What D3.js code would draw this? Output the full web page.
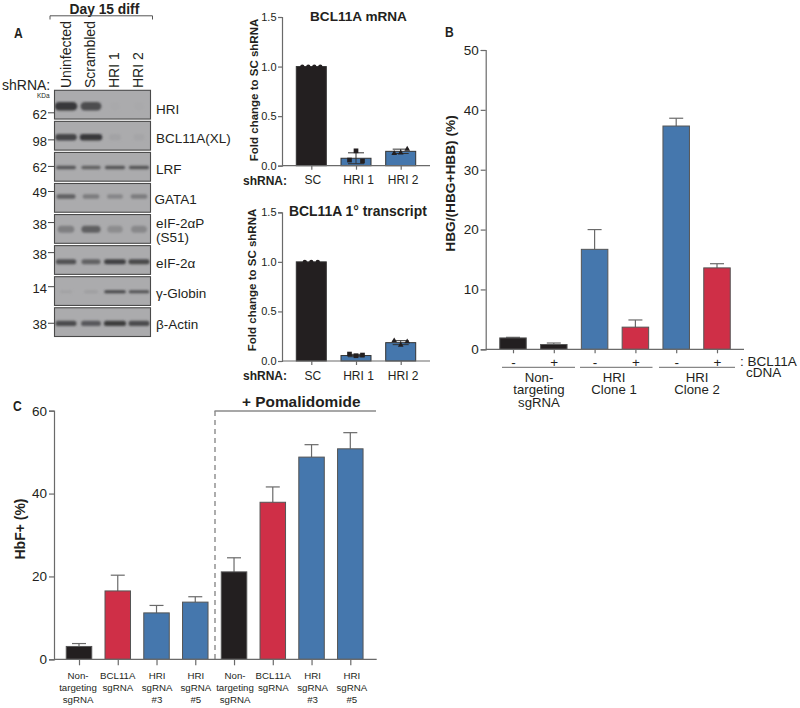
<!DOCTYPE html>
<html>
<head>
<meta charset="utf-8">
<script src="https://cdn.jsdelivr.net/npm/d3@7"></script>
<style>
  html, body { margin: 0; padding: 0; background: #fff; }
  svg { display: block; }
  text { font-family: "Liberation Sans", Arial, sans-serif; fill: #231f20; }
  .b { font-weight: bold; }
</style>
</head>
<body>
<div id="chart"></div>
<script>
// --- blot data
const laneNames = ["Uninfected", "Scrambled", "HRI 1", "HRI 2"];
const blotNames = ["HRI", "BCL11A(XL)", "LRF", "GATA1", "eIF-2αP", "eIF-2α", "γ-Globin", "β-Actin"];
const blotKDa = ["62", "98", "62", "49", "38", "38", "14", "38"];
const hriBand = [0.95, 0.78, 0, 0];
const bcl11aBand = [0.85, 0.95, 0.05, 0.03];
const lrfBand = [0.7, 0.62, 0.72, 0.72];
const gata1Band = [0.62, 0.38, 0.3, 0.38];
const eifPBand = [0.36, 0.62, 0.24, 0.28];
const eifBand = [0.75, 0.6, 0.88, 0.82];
const globinBand = [0.06, 0.09, 0.85, 0.75];
const actinBand = [0.8, 0.68, 0.92, 0.8];
const blotBands = [hriBand, bcl11aBand, lrfBand, gata1Band, eifPBand, eifBand, globinBand, actinBand];

// --- small bar charts, panel A
const shrnaGroups = ["SC", "HRI 1", "HRI 2"];
const mrnaMeans = [1.0, 0.075, 0.145];
const mrnaSD = [0, 0.055, 0.022];
const mrnaPoints = [[1, 1, 1, 1], [0.057, 0.15, 0.047], [0.125, 0.13, 0.167]];
const transcriptMeans = [1.0, 0.055, 0.185];
const transcriptSD = [0, 0.012, 0.02];
const transcriptPoints = [[1, 1, 1], [0.07, 0.053, 0.06], [0.205, 0.16, 0.195]];

// --- panel B
const bTicks = [0, 10, 20, 30, 40, 50];
const bSigns = ["-", "+", "-", "+", "-", "+"];
const bMeans = [1.9, 0.8, 16.7, 3.7, 37.3, 13.6];
const bTops = [2.0, 1.05, 20.0, 4.9, 38.6, 14.3];
const bKinds = ["ctrl", "ctrl", "hri", "rescue", "hri", "rescue"];
const bGroups = [["Non-", "targeting", "sgRNA"], ["HRI", "Clone 1"], ["HRI", "Clone 2"]];

// --- panel C
const cTicks = [0, 20, 40, 60];
const cLabels = [
  ["Non-", "targeting", "sgRNA"], ["BCL11A", "sgRNA"], ["HRI", "sgRNA", "#3"], ["HRI", "sgRNA", "#5"],
  ["Non-", "targeting", "sgRNA"], ["BCL11A", "sgRNA"], ["HRI", "sgRNA", "#3"], ["HRI", "sgRNA", "#5"]
];
const cMeans = [3.1, 16.5, 11.2, 13.8, 21.1, 37.9, 48.8, 50.8];
const cTops = [3.8, 20.3, 13.0, 15.1, 24.5, 41.6, 51.8, 54.7];
const cKinds = ["ctrl", "rescue", "hri", "hri", "ctrl", "rescue", "hri", "hri"];

const fills = { ctrl: "#231f20", hri: "#4577ad", rescue: "#cf2f47" };
const axisCol = "#6a6a6a";

const svg = d3.select("#chart").append("svg").attr("width", 800).attr("height", 708);

const defs = svg.append("defs");
defs.append("filter").attr("id", "soft")
  .attr("x", "-30%").attr("y", "-100%").attr("width", "160%").attr("height", "300%")
  .append("feGaussianBlur").attr("stdDeviation", "1.2 0.9");

function label(parent, x, y, str, size, opts = {}) {
  return parent.append("text")
    .attr("x", x).attr("y", y)
    .attr("font-size", size)
    .attr("text-anchor", opts.anchor || "start")
    .attr("class", opts.bold ? "b" : null)
    .text(str);
}

// several lines in one text element, set tight like the figure
function stacked(parent, x, y, lines, size, leading) {
  const t = parent.append("text").attr("font-size", size).attr("text-anchor", "middle");
  lines.forEach((s, k) => {
    t.append("tspan").attr("x", x).attr("y", y + k * leading).text(s);
  });
  return t;
}

function panelLetter(str, x, y) {
  svg.append("text").attr("class", "b")
    .attr("transform", `translate(${x},${y}) scale(0.78,1)`)
    .attr("font-size", 15.5).text(str);
}

function styleAxis(g) {
  g.selectAll("path, line").attr("stroke", axisCol).attr("stroke-width", 1.2);
}

// --- western blots
const blotX = d3.scaleBand().domain(laneNames).range([55, 151]);
const blotY = d3.scaleBand().domain(blotNames).range([90.3, 336.5]).paddingInner(0.075);
const bandTone = d3.scaleLinear().domain([0, 1]).range(["#a9a9ab", "#333335"]);
const bandW = d3.scaleLinear().domain([0, 0.1, 1]).range([10, 14, 23]);
// layout of each strip, px from its top
const bandOffset = [16, 15.8, 15, 13, 14.7, 16, 15, 15.7];
const bandThick = [8.5, 6.5, 3.6, 4.4, 7, 5, 3, 5.2];
const markerOffset = [22.5, 18.5, 14, 8, 8, 7, 10, 15.5];
const labelDy = [23.5, 22, 22, 21, 0, 22, 21, 21];

const blots = svg.append("g");
blotNames.forEach((name, i) => {
  const y0 = blotY(name), h = blotY.bandwidth();
  const strip = blots.append("g");
  strip.append("rect").attr("x", 54.5).attr("y", y0).attr("width", 96).attr("height", h)
    .attr("fill", "#ababad").attr("stroke", "#4a4a4a").attr("stroke-width", 1.1);
  const clipId = "strip" + i;
  defs.append("clipPath").attr("id", clipId).append("rect")
    .attr("x", 55).attr("y", y0 + 0.5).attr("width", 95).attr("height", h - 1);
  strip.append("g").attr("clip-path", `url(#${clipId})`)
    .selectAll("rect").data(blotBands[i]).join("rect")
    .attr("x", (d, j) => blotX(laneNames[j]) + blotX.bandwidth() / 2 - bandW(d) / 2 - (j === 0 ? 1 : 0))
    .attr("y", y0 + bandOffset[i] - bandThick[i] / 2)
    .attr("width", d => bandW(d))
    .attr("height", bandThick[i])
    .attr("rx", bandThick[i] / 2)
    .attr("fill", d => bandTone(d))
    .attr("filter", "url(#soft)");
  const my = y0 + markerOffset[i];
  blots.append("line").attr("x1", 48).attr("x2", 54).attr("y1", my).attr("y2", my)
    .attr("stroke", "#444").attr("stroke-width", 1);
  label(blots, 47, my + 6, blotKDa[i], 13, { anchor: "end" });
  if (name === "eIF-2αP") {
    const t = blots.append("text").attr("font-size", 13.5);
    t.append("tspan").attr("x", 156).attr("y", y0 + 13).text("eIF-2αP");
    t.append("tspan").attr("x", 156).attr("y", y0 + 27.5).text("(S51)");
  } else {
    label(blots, name === "GATA1" ? 154.5 : 156, y0 + labelDy[i], name, 13.5);
  }
});

laneNames.forEach((name, i) => {
  const cx = blotX(name) + blotX.bandwidth() / 2;
  svg.append("text").attr("font-size", 14)
    .attr("transform", `translate(${cx + 3.5},88) rotate(-90)`).text(name);
});
label(svg, 2, 90, "shRNA:", 14);
label(svg, 37, 97.5, "KDa", 6.5);
label(svg, 69.5, 14, "Day 15 diff", 13.8, { bold: true });
svg.append("path").attr("d", d3.line()([[50, 19.5], [50, 15.8], [152.5, 15.8], [152.5, 19.5]]))
  .attr("fill", "none").attr("stroke", "#555").attr("stroke-width", 1);
panelLetter("A", 14, 37.5);

// --- small panels
function smallChart(top, bottom, title, titleX, titleSize, means, sd, points, shapes, ylabelX, ylabelMid) {
  const g = svg.append("g");
  const x = d3.scalePoint().domain(shrnaGroups).range([311.3, 400.7]);
  const y = d3.scaleLinear().domain([0, 1.5]).range([bottom, top]);
  const bw = 30;

  g.selectAll("rect").data(means).join("rect")
    .attr("x", (d, i) => x(shrnaGroups[i]) - bw / 2)
    .attr("y", d => y(d))
    .attr("width", bw)
    .attr("height", d => bottom - y(d))
    .attr("fill", (d, i) => i === 0 ? fills.ctrl : fills.hri)
    .attr("stroke", "#333").attr("stroke-width", 1);

  means.forEach((m, i) => {
    const cx = x(shrnaGroups[i]);
    if (sd[i] > 0) {
      const t = y(m + sd[i]), b = y(Math.max(m - sd[i], 0));
      g.append("path").attr("d", `M${cx - 8},${t}H${cx + 8}M${cx},${t}V${b}M${cx - 8},${b}H${cx + 8}`)
        .attr("stroke", "#333").attr("stroke-width", 1).attr("fill", "none");
    }
    const n = points[i].length;
    const reach = n === 4 ? 9 : 6.5;
    const spread = d3.scalePoint().domain(d3.range(n)).range([-reach, reach]);
    const sym = d3.symbol().type(shapes[i]).size(i === 1 ? 22 : 14);
    g.selectAll(null).data(points[i]).join("path")
      .attr("d", sym)
      .attr("transform", (d, j) => `translate(${cx + spread(j)},${y(d)})`)
      .attr("fill", "#231f20");
  });

  const yAxis = g.append("g").attr("transform", "translate(282,0)")
    .call(d3.axisLeft(y).tickValues([0, 0.5, 1, 1.5]).tickFormat(d3.format(".1f")).tickSize(4).tickPadding(1.5));
  yAxis.selectAll("text").attr("font-size", 11);
  styleAxis(yAxis);

  const xAxis = g.append("g").attr("transform", `translate(0,${bottom})`)
    .call(d3.axisBottom(x).tickSize(4).tickPadding(6).tickSizeOuter(0));
  xAxis.select(".domain").attr("d", `M282,0H430`);
  xAxis.selectAll("text").attr("font-size", 12).attr("dx", (d, i) => i === 0 ? 1 : 2);
  styleAxis(xAxis);

  label(g, titleX, top + 4, title, titleSize, { bold: true });
  label(g, 243, bottom + 19, "shRNA:", 12, { bold: true });
  g.append("text").attr("class", "b").attr("font-size", 11.5).attr("text-anchor", "middle")
    .attr("transform", `translate(${ylabelX},${ylabelMid}) rotate(-90)`)
    .text("Fold change to SC shRNA");
}
smallChart(17, 165.7, "BCL11A mRNA", 310, 13.6, mrnaMeans, mrnaSD, mrnaPoints,
  [d3.symbolCircle, d3.symbolSquare, d3.symbolTriangle], 258, 90);
smallChart(212.3, 361, "BCL11A 1° transcript", 289, 13.9, transcriptMeans, transcriptSD, transcriptPoints,
  [d3.symbolCircle, d3.symbolSquare, d3.symbolTriangle], 256, 280);

// --- big bar charts share this
function bars(g, x, y, bottom, bw, means, tops, kinds, capW) {
  const n = d3.range(means.length);
  g.selectAll("line.err").data(n).join("line").attr("class", "err")
    .attr("x1", i => x(i)).attr("x2", i => x(i))
    .attr("y1", i => y(means[i])).attr("y2", i => y(tops[i]))
    .attr("stroke", axisCol).attr("stroke-width", 1.2);
  g.selectAll("line.cap").data(n).join("line").attr("class", "cap")
    .attr("x1", i => x(i) - capW).attr("x2", i => x(i) + capW)
    .attr("y1", i => y(tops[i])).attr("y2", i => y(tops[i]))
    .attr("stroke", axisCol).attr("stroke-width", 1.2);
  g.selectAll("rect").data(n).join("rect")
    .attr("x", i => x(i) - bw / 2).attr("y", i => y(means[i]))
    .attr("width", bw).attr("height", i => bottom - y(means[i]))
    .attr("fill", i => fills[kinds[i]])
    .attr("stroke", "#555").attr("stroke-width", 1);
}

// --- panel B
{
  const g = svg.append("g");
  const bottom = 349.3;
  const x = d3.scaleLinear().domain([0, 5]).range([513, 717]);
  const y = d3.scaleLinear().domain([0, 50]).range([bottom, 50]);
  bars(g, x, y, bottom, 26.5, bMeans, bTops, bKinds, 7);

  const yAxis = g.append("g").attr("transform", "translate(485.7,0)")
    .call(d3.axisLeft(y).tickValues(bTicks).tickSize(5).tickPadding(2));
  yAxis.selectAll("text").attr("font-size", 13.5);
  styleAxis(yAxis);

  const xAxis = g.append("g").attr("transform", `translate(0,${bottom})`)
    .call(d3.axisBottom(x).tickValues(d3.range(6)).tickSize(4).tickFormat(i => bSigns[i]).tickPadding(4));
  xAxis.select(".domain").attr("d", "M485.7,0H744");
  xAxis.selectAll("text").attr("font-size", 13.5);
  styleAxis(xAxis);

  [[502, 575], [580, 652.5], [659, 735]].forEach((s, i) => {
    g.append("line").attr("x1", s[0]).attr("x2", s[1]).attr("y1", 367.3).attr("y2", 367.3)
      .attr("stroke", axisCol).attr("stroke-width", 1);
    stacked(g, [539, 614, 697][i], 381.5, bGroups[i], 13.2, 12.5);
  });
  const note = g.append("text").attr("font-size", 13.5);
  note.append("tspan").attr("x", 740).attr("y", 365.5).text(": BCL11A");
  note.append("tspan").attr("x", 746).attr("y", 376.5).text("cDNA");
  g.append("text").attr("class", "b").attr("font-size", 13.7).attr("text-anchor", "middle")
    .attr("transform", "translate(454.5,183.5) rotate(-90)").text("HBG/(HBG+HBB) (%)");
  panelLetter("B", 445, 37);
}

// --- panel C
{
  const g = svg.append("g");
  const bottom = 659.3;
  const x = d3.scaleLinear().domain([0, 7]).range([79, 350.3]);
  const y = d3.scaleLinear().domain([0, 60]).range([bottom, 410.7]);
  bars(g, x, y, bottom, 25.5, cMeans, cTops, cKinds, 7);

  const yAxis = g.append("g").attr("transform", "translate(54,0)")
    .call(d3.axisLeft(y).tickValues(cTicks).tickSize(5).tickPadding(2));
  yAxis.selectAll("text").attr("font-size", 13.5);
  styleAxis(yAxis);

  const xAxis = g.append("g").attr("transform", `translate(0,${bottom})`)
    .call(d3.axisBottom(x).tickValues(d3.range(8)).tickSize(6).tickFormat(""));
  xAxis.select(".domain").attr("d", "M54,0H376.7");
  styleAxis(xAxis);

  const nudge = [-1, 0, 0.5, 0.5, 1, 0.5, 1, 1.5];
  cLabels.forEach((lines, i) => {
    stacked(g, x(i) + nudge[i], 678.5, lines, 9.7, 12);
  });

  g.append("line").attr("x1", 215).attr("x2", 215).attr("y1", 411).attr("y2", 659)
    .attr("stroke", axisCol).attr("stroke-width", 1.1).attr("stroke-dasharray", "5,4");
  g.append("line").attr("x1", 214.5).attr("x2", 376).attr("y1", 411).attr("y2", 411)
    .attr("stroke", "#8a8a8a").attr("stroke-width", 1.6);
  label(g, 242, 407, "+ Pomalidomide", 15.4, { bold: true });
  g.append("text").attr("class", "b").attr("font-size", 14).attr("text-anchor", "middle")
    .attr("transform", "translate(25,529) rotate(-90)").text("HbF+ (%)");
  panelLetter("C", 13, 411);
}
</script>
</body>
</html>
